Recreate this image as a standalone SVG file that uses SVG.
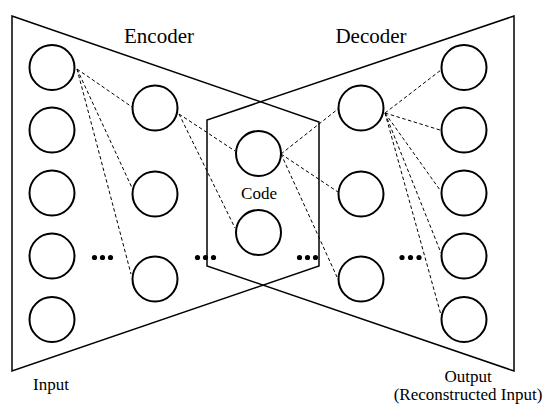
<svg xmlns="http://www.w3.org/2000/svg" width="550" height="414" viewBox="0 0 550 414">
<style>
.frame{fill:none;stroke:#000;stroke-width:1.5;stroke-linejoin:miter}
.node circle{fill:#fff;stroke:#000;stroke-width:2}
.conn line{stroke:#000;stroke-width:1;stroke-dasharray:3.5,2.5;fill:none}
.dots circle{fill:#000}
text{font-family:"Liberation Serif","Times New Roman",serif;fill:#000}
.title{font-size:21px}
.lbl{font-size:17px}
</style>
<rect width="550" height="414" fill="#fff"/>
<g id="encoder-frame"><polygon class="frame" points="12,16 319,122 319,266 12,371"/></g>
<g id="decoder-frame"><polygon class="frame" points="514,16 207,120 207,266 514,371"/></g>
<g id="connectors" class="conn">
<line x1="77" y1="69" x2="132" y2="107"/>
<line x1="77" y1="69" x2="133" y2="190"/>
<line x1="77" y1="69" x2="131" y2="274"/>
<line x1="179" y1="114" x2="235" y2="151"/>
<line x1="179" y1="114" x2="235" y2="228"/>
<line x1="281" y1="154" x2="338" y2="109"/>
<line x1="281" y1="154" x2="338" y2="192"/>
<line x1="281" y1="154" x2="337" y2="277"/>
<line x1="385" y1="113" x2="441" y2="70"/>
<line x1="385" y1="113" x2="440" y2="130"/>
<line x1="385" y1="113" x2="440" y2="190"/>
<line x1="385" y1="113" x2="441" y2="253"/>
<line x1="385" y1="113" x2="441" y2="315"/>
</g>
<g id="input-layer" class="node">
<circle cx="52" cy="67.5" r="22.5"/>
<circle cx="52" cy="130" r="22.5"/>
<circle cx="52" cy="193" r="22.5"/>
<circle cx="52" cy="256" r="22.5"/>
<circle cx="52" cy="319.5" r="22.5"/>
</g>
<g id="encoder-hidden" class="node">
<circle cx="155" cy="108" r="22.5"/>
<circle cx="155" cy="194" r="22.5"/>
<circle cx="155" cy="279" r="22.5"/>
</g>
<g id="code-layer" class="node">
<circle cx="258.5" cy="153.5" r="22.5"/>
<circle cx="258.5" cy="232.5" r="22.5"/>
</g>
<g id="decoder-hidden" class="node">
<circle cx="361" cy="108" r="22.5"/>
<circle cx="361" cy="194" r="22.5"/>
<circle cx="361" cy="279" r="22.5"/>
</g>
<g id="output-layer" class="node">
<circle cx="464" cy="67.5" r="22.5"/>
<circle cx="464" cy="130" r="22.5"/>
<circle cx="464" cy="193" r="22.5"/>
<circle cx="464" cy="256" r="22.5"/>
<circle cx="464" cy="319.5" r="22.5"/>
</g>
<g id="ellipses" class="dots">
<circle cx="94.5" cy="257.5" r="2.6"/><circle cx="102.5" cy="257.5" r="2.6"/><circle cx="110.5" cy="257.5" r="2.6"/>
<circle cx="197.5" cy="257.5" r="2.6"/><circle cx="205.5" cy="257.5" r="2.6"/><circle cx="213.5" cy="257.5" r="2.6"/>
<circle cx="299.5" cy="257.5" r="2.6"/><circle cx="307.5" cy="257.5" r="2.6"/><circle cx="315.5" cy="257.5" r="2.6"/>
<circle cx="402" cy="257.5" r="2.6"/><circle cx="410.5" cy="257.5" r="2.6"/><circle cx="419" cy="257.5" r="2.6"/>
</g>
<g id="labels">
<text class="title" x="159" y="43" text-anchor="middle">Encoder</text>
<text class="title" x="371" y="43" text-anchor="middle">Decoder</text>
<text class="lbl" x="259" y="199" text-anchor="middle">Code</text>
<text class="lbl" x="33" y="390">Input</text>
<text class="lbl" x="468" y="382" text-anchor="middle">Output</text>
<text class="lbl" x="468" y="400" text-anchor="middle">(Reconstructed Input)</text>
</g>
</svg>
